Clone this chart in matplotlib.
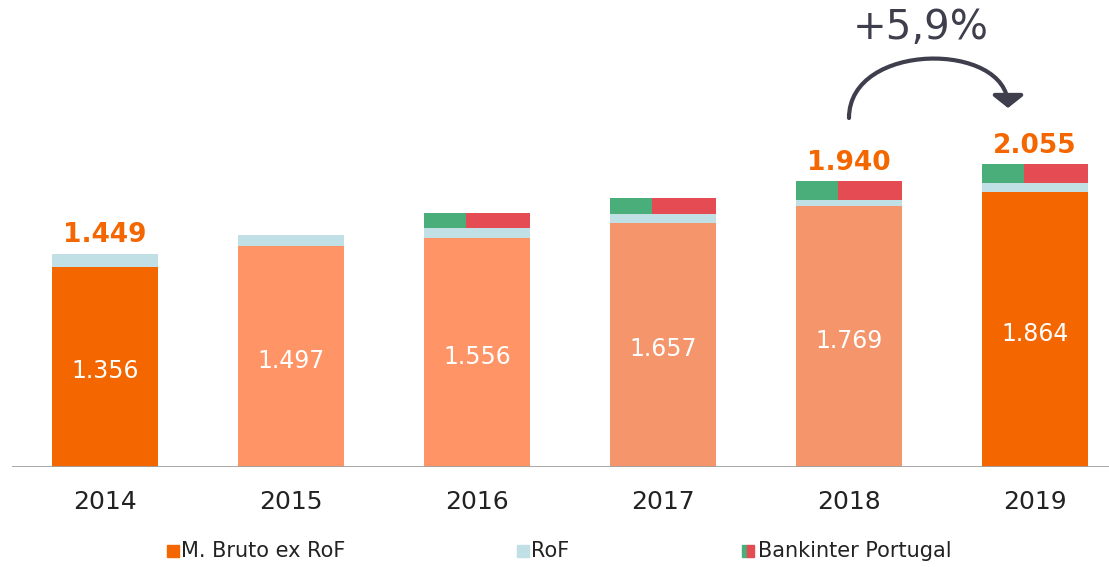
import matplotlib
matplotlib.use("Agg")
import matplotlib.pyplot as plt
from matplotlib.patches import Rectangle, FancyArrowPatch
from matplotlib.path import Path

years = ["2014", "2015", "2016", "2017", "2018", "2019"]
base = [1356, 1497, 1556, 1657, 1769, 1864]
rof = [93, 75, 68, 61, 45, 64]
bankinter = [0, 0, 102, 109, 126, 127]
base_labels = ["1.356", "1.497", "1.556", "1.657", "1.769", "1.864"]
total_labels = ["1.449", None, None, None, "1.940", "2.055"]
growth_label = "+5,9%"
legend_labels = ["M. Bruto ex RoF", "RoF", "Bankinter Portugal"]

plt.rcParams['font.family'] = ['DejaVu Sans']

base_colors = ["#F46600", "#FF9466", "#FF9466", "#F4956B", "#F4956B", "#F46600"]
rof_color = "#C0E0E5"
green = "#4AAE7A"
red = "#E54B53"
orange = "#F46600"
dark = "#3E3E4C"

W, H = 1109, 567
fig = plt.figure(figsize=(W / 100, H / 100), dpi=100)
ax = fig.add_axes([12 / W, 100 / H, 1 - 12 / W, 467 / H])
ax.set_xlim(-0.5, 5.40)
ax.set_ylim(0, 3170)
ax.axis("off")

x = list(range(len(years)))
bw = 0.57
ax.bar(x, base, width=bw, color=base_colors, zorder=2)
ax.bar(x, rof, width=bw, bottom=base, color=rof_color, zorder=2)
bottom3 = [b + r for b, r in zip(base, rof)]
gfrac = 0.4
xl = [xi - bw / 2 + bw * gfrac / 2 for xi in x]
xr = [xi + bw / 2 - bw * (1 - gfrac) / 2 for xi in x]
ax.bar(xl, bankinter, width=bw * gfrac, bottom=bottom3, color=green, zorder=2)
ax.bar(xr, bankinter, width=bw * (1 - gfrac), bottom=bottom3, color=red, zorder=2)

ax.axhline(0, color="#A0A0A0", lw=2, zorder=3)

for xi, b, lab in zip(x, base, base_labels):
    ax.annotate(lab, (xi, b / 2), xytext=(0, -3), textcoords="offset points",
                ha="center", va="center", color="white", fontsize=17)
for xi, b, r, k, lab in zip(x, base, rof, bankinter, total_labels):
    if lab:
        ax.annotate(lab, (xi, b + r + k), xytext=(0, 4), textcoords="offset points",
                    ha="center", va="bottom", color=orange, fontsize=19, fontweight="bold")
for xi, yr in zip(x, years):
    ax.annotate(yr, (xi, 0), xytext=(0, -25), textcoords="offset points",
                ha="center", va="center", color="#222222", fontsize=18)

# growth arrow (figure pixel coordinates, bottom-up)
def fp(px, py_top):
    return (px / W, 1 - py_top / H)
verts = [fp(849, 118), fp(849, 41), fp(1008, 41), fp(1008, 108)]
codes = [Path.MOVETO, Path.CURVE4, Path.CURVE4, Path.CURVE4]
arr = FancyArrowPatch(path=Path(verts, codes), transform=fig.transFigure,
                      arrowstyle="-|>,head_length=0.75,head_width=0.95",
                      mutation_scale=10, color=dark, lw=3,
                      shrinkA=0, shrinkB=0)
fig.patches.append(arr)
fig.text(921 / W, 1 - 28 / H, growth_label, ha="center", va="center", fontsize=29, color=dark)

ly = 1 - 551 / H
sq = 12
def sqpatch(px, color, w=sq):
    fig.patches.append(Rectangle((px / W, ly - sq / 2 / H), w / W, sq / H,
                                 transform=fig.transFigure, color=color))
sqpatch(167, orange)
fig.text(181 / W, ly, legend_labels[0], ha="left", va="center", fontsize=15, color="#222222")
sqpatch(517, rof_color)
fig.text(531 / W, ly, legend_labels[1], ha="left", va="center", fontsize=15, color="#222222")
sqpatch(742, green, 5)
sqpatch(747, red, 7)
fig.text(758 / W, ly, legend_labels[2], ha="left", va="center", fontsize=15, color="#222222")

fig.savefig("out.png", dpi=100)
